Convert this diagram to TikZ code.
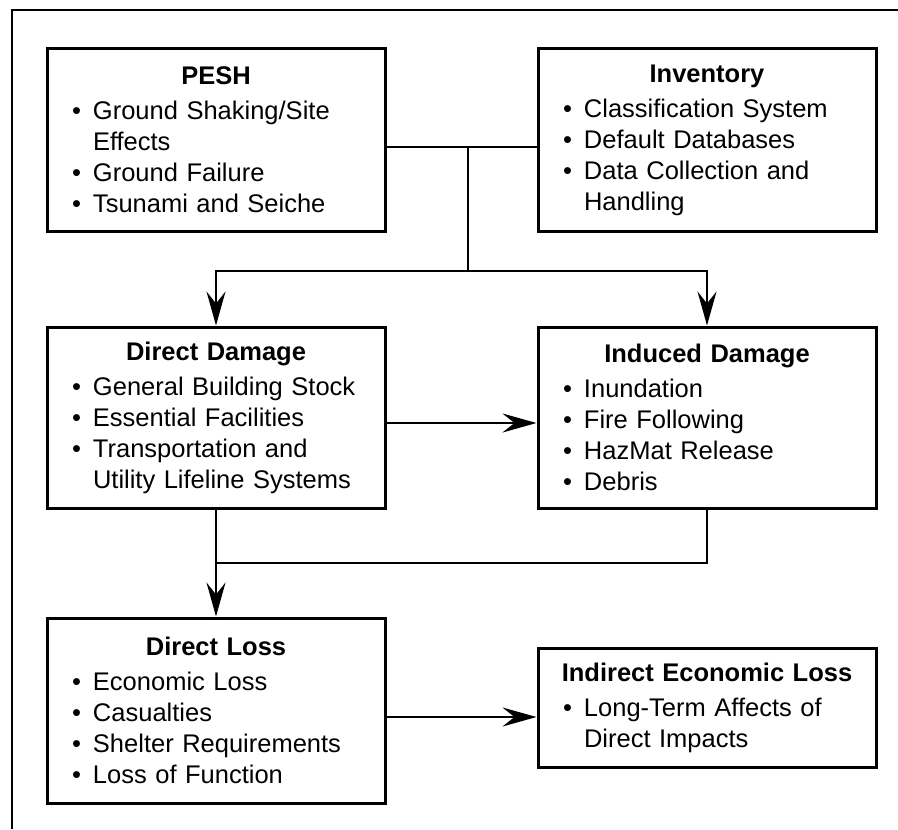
\documentclass[tikz,border=0pt]{standalone}
\usepackage{fontspec}
\setmainfont{Liberation Sans}
\usetikzlibrary{arrows.meta}

% title line and bullet line inside a box
\newcommand{\ttl}[1]{\noindent\makebox[\linewidth]{\bfseries #1}\par\vspace{2pt}}
\newcommand{\itm}[1]{\hangindent=10.5pt\hangafter=1\noindent\makebox[10.5pt][l]{\textbullet}#1\par}

\begin{document}
\begin{tikzpicture}[x=0.5pt, y=-0.5pt,
        blok/.style={draw, rectangle, line width=1.5pt,
                     minimum width=169pt, text width=144pt, inner xsep=12.5pt,
                     font=\fontsize{12.75pt}{15.5pt}\selectfont},
        lijn/.style={line width=1.2pt},
        pijl/.style={lijn, -{Stealth[length=17pt, width=9.5pt, inset=6pt]}}]
    \useasboundingbox (0,0) rectangle (898,829);
    \draw[line width=1pt] (11.5,829) -- (11.5,10) -- (898,10);   %frame

    \node[blok, minimum height=91pt] (pesh) at (216,140)
        {\ttl{PESH}
         \itm{Ground Shaking/Site\newline Effects}
         \itm{Ground Failure}
         \itm{Tsunami and Seiche}};
    \node[blok, minimum height=91pt] (inventory) at (707,140)
        {\ttl{Inventory}
         \itm{Classification System}
         \itm{Default Databases}
         \itm{Data Collection and\newline Handling}};
    \node[blok, minimum height=90.5pt] (dirdamage) at (216,417.5)
        {\ttl{Direct Damage}
         \itm{General Building Stock}
         \itm{Essential Facilities}
         \itm{Transportation and\newline Utility Lifeline Systems}};
    \node[blok, minimum height=90.5pt] (inddamage) at (707,417.5)
        {\ttl{Induced Damage}
         \itm{Inundation}
         \itm{Fire Following}
         \itm{HazMat Release}
         \itm{Debris}};
    \node[blok, minimum height=92.5pt] (dirloss) at (216,710.5)
        {\ttl{Direct Loss}
         \itm{Economic Loss}
         \itm{Casualties}
         \itm{Shelter Requirements}
         \itm{Loss of Function}};
    \node[blok, minimum height=59.5pt] (indloss) at (707,707.5)
        {\ttl{Indirect Economic Loss}
         \itm{Long-Term Affects of\newline Direct Impacts}};

    \coordinate (top) at (468,147);
    \coordinate (split) at (468,271);
    \coordinate (merge) at (216,563);
    \coordinate (mid) at (462,423);
    \coordinate (low) at (462,717);

    \draw[lijn] (pesh.east |- top) -- (inventory.west |- top);
    \draw[lijn] (top) -- (split);
    \draw[pijl] (split) -| (dirdamage.north);
    \draw[pijl] (split) -| (inddamage.north);
    \draw[pijl] (dirdamage.east |- mid) -- (inddamage.west |- mid);
    \draw[pijl] (dirdamage.south) -- (dirloss.north);
    \draw[lijn] (inddamage.south) |- (merge);
    \draw[pijl] (dirloss.east |- low) -- (indloss.west |- low);
\end{tikzpicture}
\end{document}
